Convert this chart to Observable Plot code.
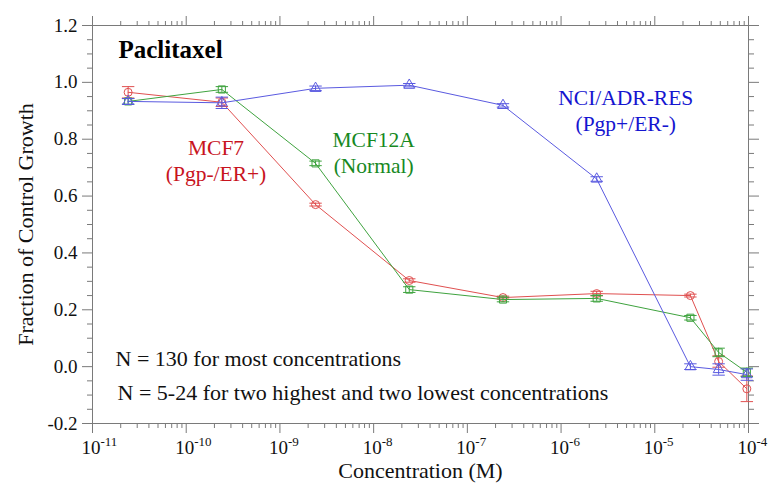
<!DOCTYPE html>
<html><head><meta charset="utf-8">
<script src="https://cdn.jsdelivr.net/npm/d3@7"></script>
<script src="https://cdn.jsdelivr.net/npm/@observablehq/plot@0.6"></script>
<style>
body{margin:0;background:#fff}
svg, svg text { font-family: "Liberation Serif", "Times New Roman", serif !important; }
</style>
</head><body><div id="chart"></div>
<script>
// ---- data ----
const conc = [2.4e-11, 2.4e-10, 2.4e-9, 2.4e-8, 2.4e-7, 2.4e-6, 2.4e-5, 4.8e-5, 9.6e-5];
const mcf7 = [0.965, 0.93, 0.57, 0.303, 0.243, 0.257, 0.25, 0.018, -0.078];
const mcf7Err = [0.02, 0.015, 0.005, 0.006, 0.005, 0.008, 0.005, 0.02, 0.045];
const mcf12a = [0.933, 0.975, 0.715, 0.271, 0.236, 0.24, 0.172, 0.05, -0.02];
const mcf12aErr = [0.01, 0.01, 0.008, 0.01, 0.008, 0.01, 0.008, 0.015, 0.015];
const nci = [0.933, 0.928, 0.979, 0.99, 0.919, 0.66, 0.0, -0.01, -0.028];
const nciErr = [0.01, 0.02, 0.008, 0.006, 0.006, 0.008, 0.01, 0.02, 0.02];
const seriesNames = ["MCF7", "MCF12A", "NCI/ADR-RES"];
const yTicks = [-0.2, 0.0, 0.2, 0.4, 0.6, 0.8, 1.0, 1.2];
const xDecades = [-11, -10, -9, -8, -7, -6, -5, -4];
const title = "Paclitaxel";
const xLabel = "Concentration (M)";
const yLabel = "Fraction of Control Growth";
const notes = ["N = 130 for most concentrations", "N = 5-24 for two highest and two lowest concentrations"];
const annotations = [
  {text: "MCF7\n(Pgp-/ER+)", x: 2.08e-10, y: 0.729, series: "MCF7"},
  {text: "MCF12A\n(Normal)", x: 1.0e-8, y: 0.757, series: "MCF12A"},
  {text: "NCI/ADR-RES\n(Pgp+/ER-)", x: 4.9e-6, y: 0.905, series: "NCI/ADR-RES"}
];

// ---- styles ----
const lineColors = {"MCF7": "#e05050", "MCF12A": "#3fa33f", "NCI/ADR-RES": "#5a5ae0"};
const textColors = {"MCF7": "#c8141e", "MCF12A": "#17891f", "NCI/ADR-RES": "#1515d0"};
const symbols = {"MCF7": "circle", "MCF12A": "square", "NCI/ADR-RES": "triangle"};
const valuesBy = {"MCF7": [mcf7, mcf7Err], "MCF12A": [mcf12a, mcf12aErr], "NCI/ADR-RES": [nci, nciErr]};

const rows = seriesNames.flatMap(s => conc.map((c, i) => ({
  series: s, conc: c, value: valuesBy[s][0][i], err: valuesBy[s][1][i]
})));

const tickValues = xDecades.map(e => Math.pow(10, e));
const minorX = [];
for (let e = -11; e < -4; e++) for (let k = 2; k <= 9; k++) minorX.push(k * Math.pow(10, e));
const minorY = d3.range(-0.2, 1.2001, 0.05).map(v => +v.toFixed(2)).filter(v => !yTicks.some(t => Math.abs(t - v) < 1e-9));

const cap = {draw(ctx, size) { const w = Math.sqrt(size); ctx.moveTo(-w, 0); ctx.lineTo(w, 0); }};
const gray = "#7a7a7a";
const font = "Liberation Serif";
const blank = () => "";

const marks = [
  Plot.axisY({ticks: minorY, tickSize: 5, tickFormat: blank, stroke: gray}),
  Plot.axisY({anchor: "right", ticks: minorY, tickSize: 5, tickFormat: blank, stroke: gray}),
  Plot.axisX({ticks: minorX, tickSize: 5, tickFormat: blank, stroke: gray}),
  Plot.axisX({anchor: "top", ticks: minorX, tickSize: 5, tickFormat: blank, stroke: gray}),
  Plot.axisY({ticks: yTicks, tickSize: 10, tickPadding: 5, tickFormat: d => d.toFixed(1), stroke: gray, fill: "#111", fontSize: 19, fontFamily: font}),
  Plot.axisY({anchor: "right", ticks: yTicks, tickSize: 10, tickFormat: blank, stroke: gray}),
  Plot.axisX({ticks: tickValues, tickSize: 10, tickFormat: blank, stroke: gray}),
  Plot.axisX({anchor: "top", ticks: tickValues, tickSize: 10, tickFormat: blank, stroke: gray}),
  Plot.frame({stroke: gray}),
  Plot.text(xDecades, {x: e => Math.pow(10, e), frameAnchor: "bottom", text: () => "10", textAnchor: "end", dx: 8, dy: 30, fontSize: 19, fill: "#111", fontFamily: font}),
  Plot.text(xDecades, {x: e => Math.pow(10, e), frameAnchor: "bottom", text: e => String(e), textAnchor: "start", dx: 8, dy: 22, fontSize: 13, fill: "#111", fontFamily: font}),
  Plot.text([xLabel], {frameAnchor: "bottom", text: d => d, dy: 54, fontSize: 22, fill: "#111", fontFamily: font}),
  Plot.text([yLabel], {frameAnchor: "left", text: d => d, rotate: -90, dx: -67, textAnchor: "middle", lineAnchor: "middle", fontSize: 22, fill: "#111", fontFamily: font}),
  Plot.text([title], {frameAnchor: "top-left", text: d => d, dx: 26, dy: 24, lineAnchor: "middle", fontSize: 25, fontWeight: "bold", textAnchor: "start", fill: "#000", fontFamily: font}),
  Plot.text([notes[0]], {x: 1.76e-11, y: 0.028, text: d => d, textAnchor: "start", fontSize: 22, fill: "#111", fontFamily: font}),
  Plot.text([notes[1]], {x: 1.85e-11, y: -0.092, text: d => d, textAnchor: "start", fontSize: 22, fill: "#111", fontFamily: font})
];

for (const s of seriesNames) {
  const data = rows.filter(d => d.series === s);
  marks.push(
    Plot.ruleX(data, {x: "conc", y1: d => d.value - d.err, y2: d => d.value + d.err, stroke: lineColors[s], strokeWidth: 1}),
    Plot.dot(data, {x: "conc", y: d => d.value + d.err, symbol: cap, r: 3.5, stroke: lineColors[s], strokeWidth: 1}),
    Plot.dot(data, {x: "conc", y: d => d.value - d.err, symbol: cap, r: 3.5, stroke: lineColors[s], strokeWidth: 1}),
    Plot.line(data, {x: "conc", y: "value", stroke: lineColors[s], strokeWidth: 1}),
    Plot.dot(data, {x: "conc", y: "value", symbol: symbols[s], r: 4, stroke: lineColors[s], fill: "none", strokeWidth: 1})
  );
}
marks.push(Plot.text(annotations, {x: "x", y: "y", text: "text", fill: d => textColors[d.series], fontSize: 21.5, lineHeight: 1.25, textAnchor: "middle", fontFamily: font}));

const chart = Plot.plot({
  width: 769, height: 486,
  marginLeft: 92, marginRight: 21, marginTop: 25, marginBottom: 63,
  style: {fontFamily: font, background: "#fff"},
  x: {type: "log", domain: [1e-11, 1e-4], axis: null},
  y: {domain: [-0.2, 1.2], axis: null},
  marks
});
document.getElementById("chart").appendChild(chart);
</script>
</body></html>
